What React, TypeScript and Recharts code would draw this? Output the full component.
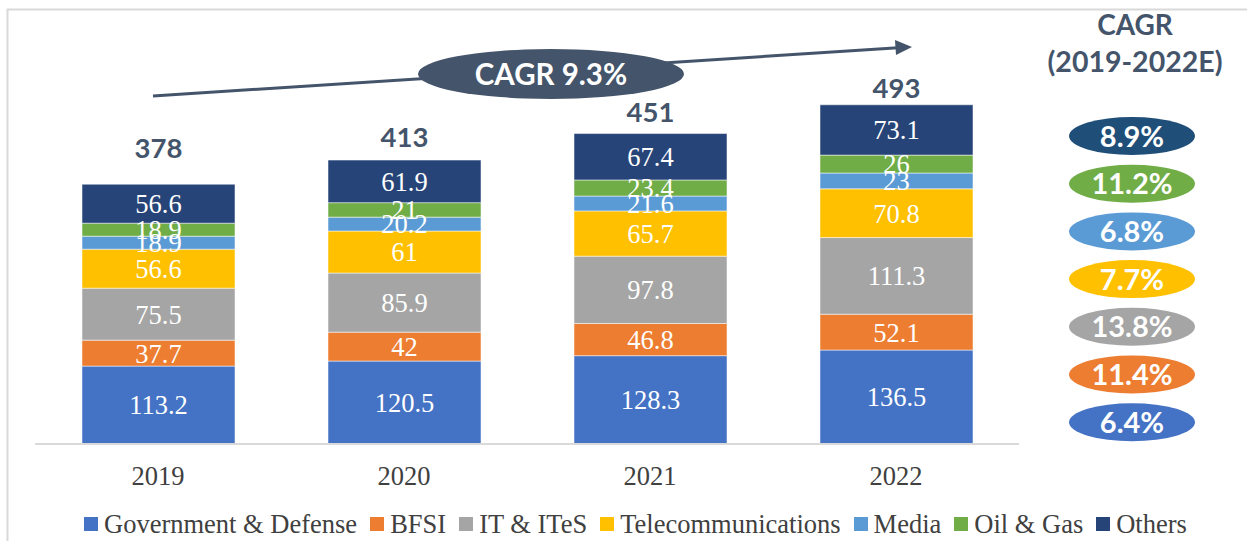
import React from "react";
import { BarChart, Bar, XAxis, YAxis, LabelList, Customized } from "recharts";

const years = ["2019", "2020", "2021", "2022"];
const government = [113.2, 120.5, 128.3, 136.5];
const bfsi = [37.7, 42, 46.8, 52.1];
const itites = [75.5, 85.9, 97.8, 111.3];
const telecom = [56.6, 61, 65.7, 70.8];
const media = [18.9, 20.2, 21.6, 23];
const oilGas = [18.9, 21, 23.4, 26];
const others = [56.6, 61.9, 67.4, 73.1];
const totals = [378, 413, 451, 493];

const seriesNames = ["Government & Defense", "BFSI", "IT & ITeS", "Telecommunications", "Media", "Oil & Gas", "Others"];
const seriesKeys = ["gov", "bfsi", "it", "tel", "media", "oil", "others"];
const seriesColors = ["#4472C4", "#ED7D31", "#A5A5A5", "#FFC000", "#5B9BD5", "#70AD47", "#264478"];
const seriesValues = [government, bfsi, itites, telecom, media, oilGas, others];

// CAGR bubbles, top to bottom (Others -> Government)
const cagrLabels = ["8.9%", "11.2%", "6.8%", "7.7%", "13.8%", "11.4%", "6.4%"];
const cagrColors = ["#1F4E79", "#70AD47", "#5B9BD5", "#FFC000", "#A5A5A5", "#ED7D31", "#4472C4"];
const overallCagr = "CAGR 9.3%";

// distance of each total label's baseline above its bar (placed by hand in the original)
const totalLift = [26, 13, 12, 7];

const data = years.map((y, i) => {
  const row: any = { year: y, total: totals[i] };
  seriesKeys.forEach((k, s) => (row[k] = seriesValues[s][i]));
  return row;
});

const SERIF = "'Liberation Serif', 'Times New Roman', serif";
const SANS = "Lato, 'Open Sans', sans-serif";
const DARK = "#44546A";

const TotalLabel = (props: any) => {
  const { x, y, width, index } = props;
  return (
    <text x={x + width / 2} y={y - totalLift[index]} textAnchor="middle" fontFamily={SANS} fontWeight={700} fontSize={27.5} fill={DARK}>
      {totals[index]}
    </text>
  );
};

const Tick = (props: any) => {
  const { x, y, payload } = props;
  return (
    <text x={x} y={y + 41} textAnchor="middle" fontFamily={SERIF} fontSize={26.5} fill="#404040">
      {payload.value}
    </text>
  );
};

const Annotations = () => (
  <g>
    <rect x={7.5} y={9.5} width={1260} height={600} fill="none" stroke="#D9D9D9" strokeWidth={2} />
    <line x1={153} y1={96} x2={898} y2={47.8} stroke={DARK} strokeWidth={3} />
    <polygon points="912,47 895,40 896,55" fill={DARK} />
    <ellipse cx={551} cy={74} rx={133} ry={25} fill={DARK} />
    <text x={551} y={84.5} textAnchor="middle" fontFamily={SANS} fontWeight={700} fontSize={29.5} fill="#fff">
      {overallCagr}
    </text>
    <text x={1135} y={35} textAnchor="middle" fontFamily={SANS} fontWeight={700} fontSize={28} fill={DARK}>
      CAGR
    </text>
    <text x={1135} y={72} textAnchor="middle" fontFamily={SANS} fontWeight={700} fontSize={28.5} fill={DARK}>
      (2019-2022E)
    </text>
    {cagrLabels.map((lab, i) => {
      const cy = 136 + i * 47.7;
      return (
        <g key={lab + i}>
          <ellipse cx={1132} cy={cy} rx={63} ry={19} fill={cagrColors[i]} />
          <text x={1132} y={cy + 10.5} textAnchor="middle" fontFamily={SANS} fontWeight={700} fontSize={29} fill="#fff">
            {lab}
          </text>
        </g>
      );
    })}
  </g>
);

export default function App() {
  return (
    <div style={{ position: "absolute", left: 0, top: 0, width: 1247, height: 541, background: "#fff" }}>
      <BarChart width={1247} height={541} data={data} margin={{ top: 31, right: 228, left: 35, bottom: 57 }} barSize={153}>
        <Customized component={Annotations} />
        <XAxis
          dataKey="year"
          axisLine={{ stroke: "#D9D9D9", strokeWidth: 2 }}
          tickLine={false}
          tickSize={0}
          tickMargin={0}
          height={40}
          tick={<Tick />}
          interval={0}
        />
        <YAxis hide domain={[0, 600]} />
        {seriesKeys.map((k, s) => (
          <Bar key={k} dataKey={k} stackId="a" fill={seriesColors[s]} stroke="#ffffff" strokeOpacity={0.5} strokeWidth={1} isAnimationActive={false}>
            <LabelList dataKey={k} position="center" fill="#fff" fontFamily={SERIF} fontSize={26.5} />
            {s === seriesKeys.length - 1 ? <LabelList dataKey="total" content={<TotalLabel />} /> : null}
          </Bar>
        ))}
      </BarChart>
      <div
        style={{
          position: "absolute",
          left: 84,
          top: 511,
          display: "flex",
          alignItems: "center",
          fontFamily: SERIF,
          fontSize: 26.5,
          lineHeight: "26px",
          color: "#404040",
          whiteSpace: "nowrap",
        }}
      >
        {seriesNames.map((n, i) => (
          <div key={n} style={{ display: "flex", alignItems: "center", marginRight: 13 }}>
            <div style={{ width: 14, height: 14, background: seriesColors[i], marginRight: 6 }} />
            <span>{n}</span>
          </div>
        ))}
      </div>
    </div>
  );
}
